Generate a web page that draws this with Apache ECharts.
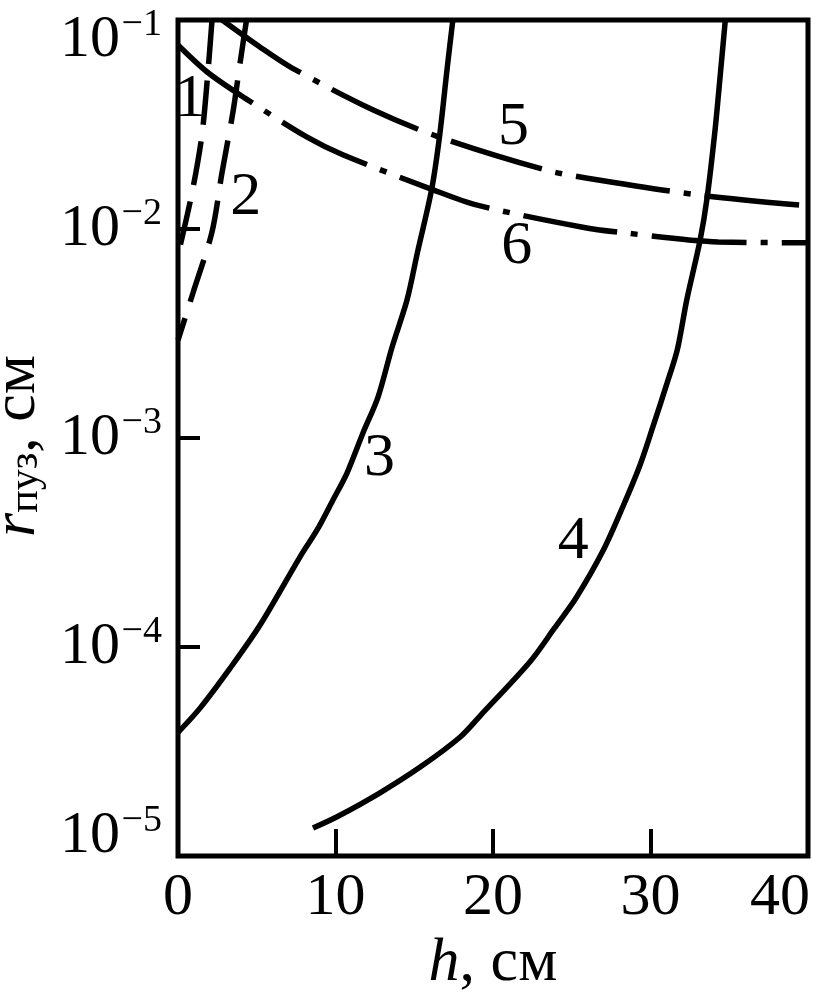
<!DOCTYPE html>
<html>
<head>
<meta charset="utf-8">
<script src="https://cdn.jsdelivr.net/npm/echarts@6/dist/echarts.min.js"></script>
<style>
html,body{margin:0;padding:0;background:#fff;}
#chart{width:830px;height:1000px;}
</style>
</head>
<body>
<div id="chart"></div>
<script>
// ---- data ----
const xTicks = [0, 10, 20, 30, 40];
const yTickExponents = [-1, -2, -3, -4, -5];

const curve1H = [2.16, 1.90, 1.52, 0.89, 0];
const curve1R = [0.1, 0.0564, 0.0282, 0.0149, 0.0075];

const curve2H = [4.35, 3.94, 3.49, 2.79, 2.16, 0.95, 0];
const curve2R = [0.1, 0.0622, 0.0363, 0.01854, 0.00968, 0.00494, 0.00294];

const curve3H = [0, 1.4, 3.3, 5.2, 7.75, 8.83, 9.84, 10.73, 11.75, 12.7, 13.59, 14.54, 15.2, 16.1, 16.6, 17.1, 17.45];
const curve3R = [3.9e-5, 5.1e-5, 7.9e-5, 1.27e-4, 2.7e-4, 3.63e-4, 5.05e-4, 6.8e-4, 1.06e-3, 1.57e-3, 2.72e-3, 4.57e-3, 7.7e-3, 0.0154, 0.0275, 0.0596, 0.1];

const curve4H = [8.57, 10.1, 12.8, 15.4, 17.9, 19.2, 22.35, 23.9, 25.3, 27.0, 28.25, 29.3, 30.15, 31.05, 31.7, 32.3, 33.15, 33.6, 34.1, 34.4, 34.75];
const curve4R = [1.36e-5, 1.54e-5, 2.0e-5, 2.67e-5, 3.7e-5, 4.7e-5, 8.5e-5, 1.23e-4, 1.73e-4, 2.9e-4, 4.7e-4, 7.3e-4, 1.13e-3, 1.83e-3, 2.64e-3, 4.57e-3, 8.85e-3, 0.0142, 0.0298, 0.0516, 0.1];

const curve5H = [2.8, 5.2, 7.25, 12.4, 16.6, 23.4, 26.0, 33.0, 39.5];
const curve5R = [0.1, 0.0743, 0.0589, 0.0371, 0.0275, 0.0191, 0.0175, 0.01456, 0.0130];

const curve6H = [0, 1.85, 4.25, 8.2, 10.5, 16.2, 19.0, 25.7, 28.4, 34.3, 40];
const curve6R = [0.0759, 0.0564, 0.0423, 0.0275, 0.0226, 0.0154, 0.0130, 0.0102, 0.00957, 0.00867, 0.0086];

const labelText = ['1', '2', '3', '4', '5', '6'];
const labelH = [0.76, 4.3, 12.8, 25.1, 21.3, 21.5];
const labelR = [0.0414, 0.0141, 8.0e-4, 3.2e-4, 0.0304, 0.0082];

// ---- chart ----
const FONT = '"Liberation Serif", "DejaVu Serif", serif';
const zip = (a, b) => a.map((v, i) => [v, b[i]]);

function lineSeries(name, hs, rs, type) {
  return {
    name: name, type: 'line', data: zip(hs, rs),
    smooth: 0.3, symbol: 'none', silent: true, clip: true,
    lineStyle: { color: '#000', width: 5.5, type: type, cap: 'butt' }
  };
}

const DASH = [44, 17];
const DASHDOT = [95, 14, 7, 14];
const yMin = Math.pow(10, yTickExponents[yTickExponents.length - 1]);
const yMax = Math.pow(10, yTickExponents[0]);

function expOf(v) { return Math.round(Math.log10(v)); }

const chart = echarts.init(document.getElementById('chart'), null, { renderer: 'canvas' });

chart.setOption({
  animation: false,
  backgroundColor: '#fff',
  grid: {
    left: 178, right: 22, top: 20, bottom: 144,
    containLabel: false, outerBoundsMode: 'none',
    show: true, borderColor: '#000', borderWidth: 5, backgroundColor: 'transparent'
  },
  xAxis: {
    type: 'value', min: xTicks[0], max: xTicks[xTicks.length - 1], interval: 10,
    axisLine: { show: false },
    axisTick: { show: true, inside: true, length: 27, lineStyle: { color: '#000', width: 4 } },
    splitLine: { show: false },
    axisLabel: {
      margin: 12, color: '#000',
      formatter: function (v) {
        return v === xTicks[xTicks.length - 1] ? '{r|' + v + '}' : '{n|' + v + '}';
      },
      rich: {
        n: { fontSize: 60, fontFamily: FONT, color: '#000' },
        r: { fontSize: 60, fontFamily: FONT, color: '#000', padding: [0, 56, 0, 0] }
      }
    },
    name: '{i|h}{n|, см}', nameLocation: 'middle', nameGap: 72,
    nameTextStyle: {
      color: '#000',
      rich: {
        i: { fontSize: 62, fontStyle: 'italic', fontFamily: FONT, color: '#000' },
        n: { fontSize: 62, fontFamily: FONT, color: '#000' }
      }
    }
  },
  yAxis: [
    {
      type: 'log', logBase: 10, min: yMin, max: yMax,
      axisLine: { show: false },
      axisTick: { show: true, inside: true, length: 22, lineStyle: { color: '#000', width: 4 } },
      minorTick: { show: false },
      splitLine: { show: false },
      axisLabel: {
        margin: 58, color: '#000',
        formatter: function (v) {
          const e = expOf(v);
          if (e === yTickExponents[0]) return '{t|10}';
          if (e === yTickExponents[yTickExponents.length - 1]) return '{m|10}';
          return '{n|10}';
        },
        rich: {
          n: { fontSize: 60, fontFamily: FONT, color: '#000' },
          t: { fontSize: 60, fontFamily: FONT, color: '#000', padding: [40, 0, 0, 0] },
          m: { fontSize: 60, fontFamily: FONT, color: '#000', padding: [0, 0, 40, 0] }
        }
      },
      name: '{i|r}{sub|пуз}{n|, см}', nameLocation: 'middle', nameRotate: 90, nameGap: 114,
      nameTextStyle: {
        color: '#000',
        padding: [0, 16, 0, 0],
        rich: {
          i: { fontSize: 62, fontStyle: 'italic', fontFamily: FONT, color: '#000' },
          sub: { fontSize: 42, fontFamily: FONT, color: '#000', padding: [16, 0, 0, 0] },
          n: { fontSize: 62, fontFamily: FONT, color: '#000' }
        }
      }
    },
    {
      type: 'log', logBase: 10, min: yMin, max: yMax, position: 'left', offset: 0,
      axisLine: { show: false }, axisTick: { show: false }, minorTick: { show: false },
      splitLine: { show: false },
      axisLabel: {
        margin: 16, color: '#000',
        formatter: function (v) {
          const e = expOf(v);
          const s = '\u2212' + (-e);
          if (e === yTickExponents[0]) return '{t|' + s + '}';
          if (e === yTickExponents[yTickExponents.length - 1]) return '{m|' + s + '}';
          return '{n|' + s + '}';
        },
        rich: {
          n: { fontSize: 38, fontFamily: FONT, color: '#000', padding: [0, 0, 30, 0] },
          t: { fontSize: 38, fontFamily: FONT, color: '#000', padding: [10, 0, 0, 0] },
          m: { fontSize: 38, fontFamily: FONT, color: '#000', padding: [0, 0, 70, 0] }
        }
      }
    }
  ],
  series: [
    lineSeries('1', curve1H, curve1R, DASH),
    lineSeries('2', curve2H, curve2R, DASH),
    lineSeries('3', curve3H, curve3R, 'solid'),
    lineSeries('4', curve4H, curve4R, 'solid'),
    lineSeries('5', curve5H, curve5R, DASHDOT),
    lineSeries('6', curve6H, curve6R, DASHDOT),
    {
      type: 'scatter', silent: true,
      data: labelText.map((t, i) => ({ value: [labelH[i], labelR[i]], name: t })),
      symbol: 'circle', symbolSize: 0, itemStyle: { color: '#000', opacity: 1 },
      label: {
        show: true, position: 'inside', formatter: p => p.name, opacity: 1,
        fontSize: 62, fontFamily: FONT, color: '#000', textBorderWidth: 0
      }
    }
  ]
});
</script>
</body>
</html>
